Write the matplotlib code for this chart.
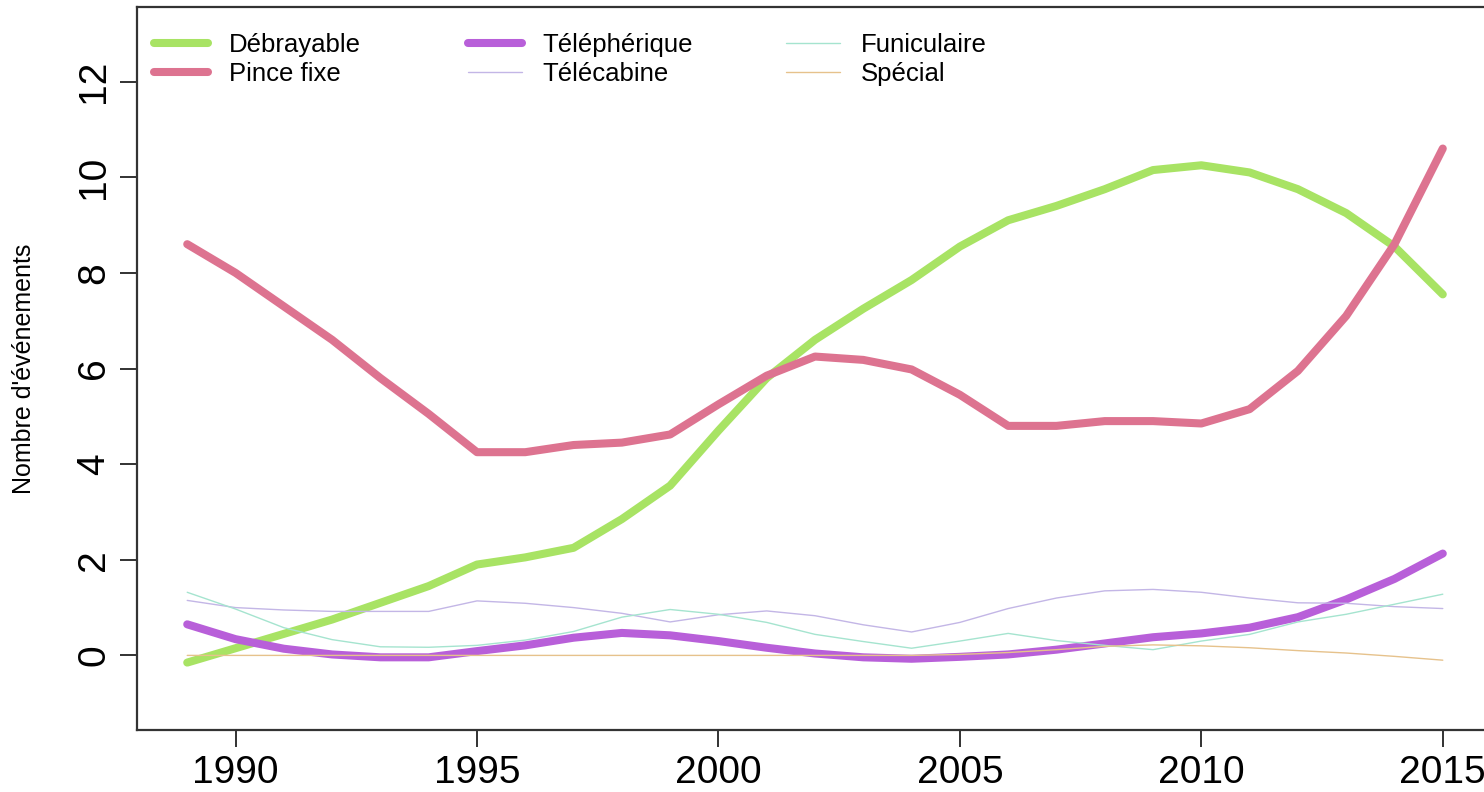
import matplotlib
matplotlib.use("Agg")
import matplotlib.pyplot as plt

years = list(range(1989, 2016))

debrayable = [-0.15, 0.15, 0.45, 0.75, 1.1, 1.45, 1.9, 2.05, 2.25, 2.85, 3.55, 4.7, 5.8, 6.6,
              7.25, 7.85, 8.55, 9.1, 9.4, 9.75, 10.15, 10.25, 10.1, 9.75, 9.25, 8.55, 7.55]
pince_fixe = [8.6, 8.0, 7.3, 6.6, 5.8, 5.05, 4.25, 4.25, 4.4, 4.45, 4.62, 5.25, 5.85, 6.25,
              6.18, 5.98, 5.45, 4.8, 4.8, 4.9, 4.9, 4.85, 5.15, 5.95, 7.1, 8.6, 10.6]
telepherique = [0.65, 0.34, 0.14, 0.02, -0.04, -0.04, 0.09, 0.21, 0.37, 0.47, 0.42, 0.3, 0.16, 0.04,
                -0.04, -0.07, -0.03, 0.02, 0.12, 0.25, 0.38, 0.46, 0.58, 0.8, 1.17, 1.6, 2.13]
telecabine = [1.15, 1.0, 0.95, 0.92, 0.92, 0.92, 1.14, 1.09, 1.0, 0.88, 0.7, 0.85, 0.93, 0.83,
              0.64, 0.49, 0.69, 0.98, 1.2, 1.35, 1.38, 1.32, 1.2, 1.1, 1.09, 1.02, 0.98]
funiculaire = [1.32, 0.97, 0.58, 0.33, 0.18, 0.17, 0.21, 0.32, 0.5, 0.8, 0.96, 0.86, 0.69, 0.44,
               0.29, 0.15, 0.3, 0.46, 0.31, 0.21, 0.12, 0.3, 0.44, 0.7, 0.86, 1.07, 1.28]
special = [0.0, 0.0, 0.0, 0.0, 0.0, 0.0, 0.0, 0.0, 0.0, 0.0, 0.0, 0.0, 0.0, 0.0,
           0.0, 0.0, 0.02, 0.06, 0.12, 0.19, 0.22, 0.2, 0.16, 0.1, 0.05, -0.02, -0.1]

labels = ["Débrayable", "Pince fixe", "Téléphérique", "Télécabine", "Funiculaire", "Spécial"]
x_ticks = [1990, 1995, 2000, 2005, 2010, 2015]
y_ticks = [0, 2, 4, 6, 8, 10, 12]

plt.rcParams['font.family'] = ['Liberation Sans', 'DejaVu Sans']

W, H = 1484, 792
fig = plt.figure(figsize=(W / 100, H / 100), dpi=100)
left, right, top, bottom = 137, 1493, 7, 730
ax = fig.add_axes([left / W, 1 - bottom / H, (right - left) / W, (bottom - top) / H])

thick = 5.8
thin = 1.0
series = [
    (debrayable, "#A8E364", thick),
    (pince_fixe, "#DD7390", thick),
    (telepherique, "#B85FD9", thick),
    (telecabine, "#C3B6E6", thin),
    (funiculaire, "#A5E4CF", thin),
    (special, "#E6C28C", thin),
]
handles = []
for (vals, col, lw), lab in zip(series, labels):
    h, = ax.plot(years, vals, color=col, lw=lw, solid_capstyle='round',
                 solid_joinstyle='round', label=lab)
    handles.append(h)

ax.set_xlim(1987.96, 2016.04)
ax.set_ylim(-1.56, 13.56)
ax.set_xticks(x_ticks)
ax.set_yticks(y_ticks)
ax.set_xticklabels([str(v) for v in x_ticks], fontsize=28)
ax.set_yticklabels([str(v) for v in y_ticks], fontsize=28, rotation=90, va='center')
ax.tick_params(axis='both', length=12, width=1.3, color='#222222', direction='out', pad=6)
for s in ax.spines.values():
    s.set_color('#333333')
    s.set_linewidth(1.6)
ax.set_ylabel("Nombre d'événements", fontsize=18)
ax.yaxis.set_label_coords((24 - left) / (right - left), 0.5)
ax.yaxis.label.set_verticalalignment('center')

col_x = [154, 468, 786]
for ci, xpos in enumerate(col_x):
    idx = [2 * ci, 2 * ci + 1]
    leg = ax.legend([handles[i] for i in idx], [labels[i] for i in idx], ncol=1,
                    frameon=False, fontsize=18.5, loc='upper left',
                    bbox_to_anchor=(xpos / W, 1 - 33 / H), bbox_transform=fig.transFigure,
                    borderpad=0, handlelength=2.1, handletextpad=0.8,
                    labelspacing=0.2, borderaxespad=0)
    if ci < 2:
        ax.add_artist(leg)

fig.savefig("out.png", dpi=100)
